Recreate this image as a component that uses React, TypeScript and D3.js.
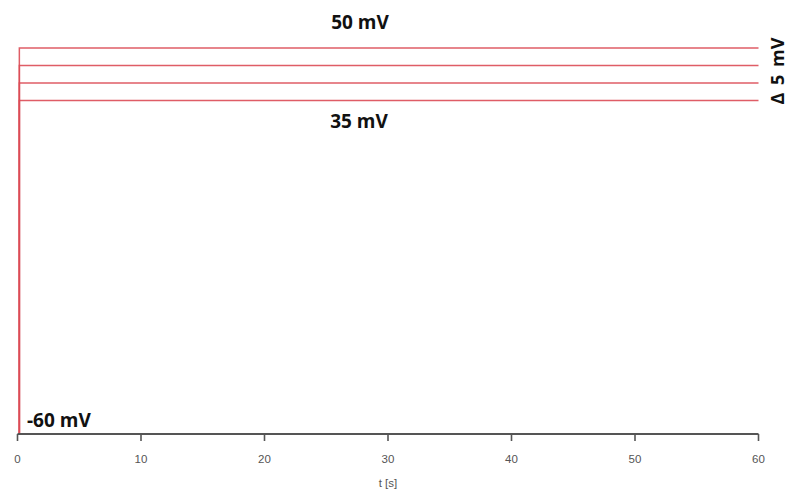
import React from "react";
import * as d3 from "d3";

const levels = [50, 45, 40, 35];
const baseline = -60;
const stepTime = 0.15;
const endTime = 60;
const xTicks = [0, 10, 20, 30, 40, 50, 60];

const W = 790;
const H = 492;

export default function App() {
  const x = d3.scaleLinear().domain([0, 60]).range([17.5, 758.5]);
  const y = d3.scaleLinear().domain([-60, 50]).range([433, 48]);
  const line = d3
    .line<[number, number]>()
    .x((d) => x(d[0]))
    .y((d) => y(d[1]));
  const axisY = 434;
  const red = "#dc4b55";
  const font = "'Open Sans', 'Noto Sans', sans-serif";
  return (
    <svg
      width={W}
      height={H}
      style={{ position: "absolute", left: 0, top: 0, background: "#fff" }}
    >
      {levels.map((v) => (
        <path
          key={v}
          d={line([
            [stepTime, baseline],
            [stepTime, v],
            [endTime, v],
          ]) || ""}
          fill="none"
          stroke={red}
          strokeWidth={1.5}
          strokeOpacity={0.9}
        />
      ))}
      <line
        x1={x(0)}
        x2={x(60)}
        y1={axisY}
        y2={axisY}
        stroke="#555"
        strokeWidth={1.8}
      />
      {xTicks.map((t) => (
        <g key={t} transform={`translate(${x(t)},${axisY})`}>
          <line y1={0} y2={7} stroke="#555" strokeWidth={1.6} />
          <text
            y={29}
            textAnchor="middle"
            fontFamily="Arial, 'Liberation Sans', sans-serif"
            fontSize={11.5}
            fill="#555"
          >
            {t}
          </text>
        </g>
      ))}
      <text
        x={x(30)}
        y={487}
        textAnchor="middle"
        fontFamily="Arial, 'Liberation Sans', sans-serif"
        fontSize={11.5}
        fill="#555"
      >
        t [s]
      </text>
      <text
        x={360}
        y={29}
        textAnchor="middle"
        fontFamily={font}
        fontWeight="bold"
        fontSize={19}
        fill="#111"
      >
        {`${levels[0]} mV`}
      </text>
      <text
        x={359}
        y={128}
        textAnchor="middle"
        fontFamily={font}
        fontWeight="bold"
        fontSize={19}
        fill="#111"
      >
        {`${levels[levels.length - 1]} mV`}
      </text>
      <text
        x={27}
        y={427}
        textAnchor="start"
        fontFamily={font}
        fontWeight="bold"
        fontSize={19}
        fill="#111"
      >
        {`${baseline} mV`}
      </text>
      <text
        transform={`translate(784,71) rotate(-90)`}
        textAnchor="middle"
        fontFamily={font}
        fontWeight="bold"
        fontSize={18}
        fill="#111"
        style={{ wordSpacing: "3px" }}
      >
        {`Δ ${levels[0] - levels[1]} mV`}
      </text>
    </svg>
  );
}
